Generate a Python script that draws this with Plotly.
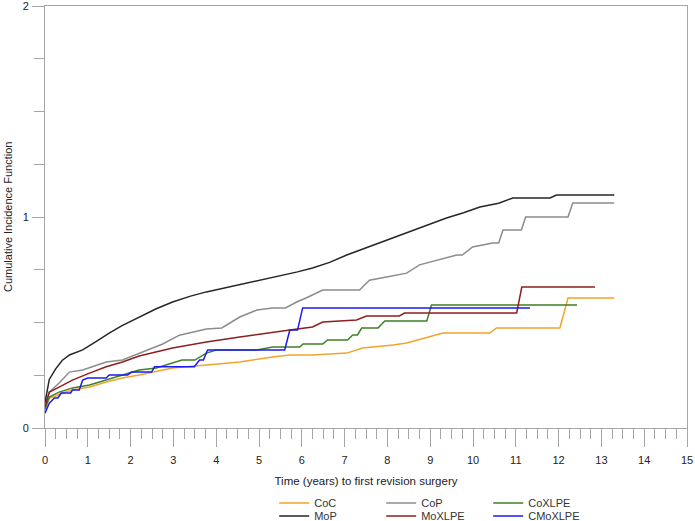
import plotly.graph_objects as go

# ---- data ----
coc_t = [0, 0.1, 0.25, 0.4, 0.64, 1.04, 1.43, 1.81, 2.2, 2.98, 3.77, 4.55, 5.32, 5.72, 6.25, 7.05, 7.42, 8.13, 8.45, 8.92, 9.3, 10.39, 10.55, 12.03, 12.22, 13.3]
coc_v = [0.085, 0.142, 0.152, 0.166, 0.18, 0.194, 0.218, 0.237, 0.251, 0.284, 0.299, 0.313, 0.336, 0.346, 0.346, 0.355, 0.379, 0.393, 0.403, 0.427, 0.45, 0.45, 0.474, 0.474, 0.616, 0.616]

cop_t = [0, 0.1, 0.33, 0.57, 0.88, 1.1, 1.43, 1.81, 2.2, 2.75, 3.14, 3.77, 4.13, 4.55, 4.95, 5.32, 5.62, 5.88, 6.1, 6.49, 7.35, 7.58, 7.98, 8.45, 8.75, 9.15, 9.62, 9.75, 9.99, 10.46, 10.6, 10.7, 11.13, 11.23, 12.22, 12.33, 13.3]
cop_v = [0.10, 0.17, 0.213, 0.265, 0.275, 0.29, 0.313, 0.322, 0.355, 0.398, 0.44, 0.469, 0.474, 0.526, 0.559, 0.569, 0.569, 0.597, 0.616, 0.654, 0.654, 0.70, 0.716, 0.734, 0.773, 0.796, 0.82, 0.82, 0.858, 0.877, 0.877, 0.938, 0.938, 1.0, 1.0, 1.066, 1.066]

coxlpe_t = [0, 0.1, 0.33, 0.64, 1.04, 1.43, 1.81, 2.2, 2.6, 2.98, 3.2, 3.5, 3.77, 4.0, 4.95, 5.32, 5.95, 6.03, 6.49, 6.6, 7.07, 7.19, 7.3, 7.4, 7.78, 7.94, 8.92, 9.03, 12.43]
coxlpe_v = [0.09, 0.147, 0.17, 0.19, 0.204, 0.227, 0.251, 0.275, 0.284, 0.308, 0.322, 0.322, 0.355, 0.37, 0.37, 0.384, 0.384, 0.398, 0.398, 0.417, 0.417, 0.441, 0.441, 0.474, 0.474, 0.507, 0.507, 0.583, 0.583]

mop_t = [0, 0.05, 0.1, 0.25, 0.4, 0.57, 0.88, 1.2, 1.5, 1.8, 2.2, 2.6, 2.98, 3.4, 3.77, 4.15, 4.55, 5.1, 5.5, 5.9, 6.25, 6.65, 7.05, 7.45, 7.82, 8.2, 8.6, 9.0, 9.38, 9.78, 10.16, 10.6, 10.93, 11.8, 11.95, 13.3]
mop_v = [0.12, 0.18, 0.23, 0.28, 0.32, 0.346, 0.37, 0.41, 0.45, 0.485, 0.526, 0.565, 0.597, 0.625, 0.645, 0.662, 0.678, 0.705, 0.72, 0.74, 0.758, 0.785, 0.82, 0.85, 0.88, 0.905, 0.938, 0.965, 0.995, 1.02, 1.047, 1.065, 1.09, 1.09, 1.104, 1.104]

moxlpe_t = [0, 0.1, 0.33, 0.64, 1.04, 1.43, 1.81, 2.2, 2.98, 3.77, 4.55, 5.32, 5.72, 6.25, 6.49, 7.28, 7.51, 8.28, 8.4, 11.02, 11.14, 12.85]
moxlpe_v = [0.10, 0.17, 0.194, 0.227, 0.26, 0.29, 0.313, 0.341, 0.379, 0.408, 0.431, 0.455, 0.464, 0.479, 0.502, 0.512, 0.531, 0.531, 0.545, 0.545, 0.668, 0.668]

cmoxlpe_t = [0, 0.1, 0.22, 0.3, 0.38, 0.6, 0.64, 0.8, 0.88, 1.0, 1.43, 1.5, 1.93, 2.02, 2.49, 2.56, 3.49, 3.61, 3.7, 3.8, 5.6, 5.72, 5.9, 6.02, 11.33]
cmoxlpe_v = [0.07, 0.118, 0.142, 0.142, 0.166, 0.166, 0.18, 0.18, 0.227, 0.237, 0.237, 0.251, 0.251, 0.265, 0.265, 0.29, 0.29, 0.322, 0.322, 0.37, 0.37, 0.464, 0.464, 0.569, 0.569]

x_ticks = list(range(0, 16))
y_ticks = [0, 1, 2]

series = [
    ("CoC", coc_t, coc_v, "#F2A32A", "legend"),
    ("CoP", cop_t, cop_v, "#8C8C8C", "legend"),
    ("CoXLPE", coxlpe_t, coxlpe_v, "#3F7F25", "legend"),
    ("MoP", mop_t, mop_v, "#262626", "legend2"),
    ("MoXLPE", moxlpe_t, moxlpe_v, "#8E1F1F", "legend2"),
    ("CMoXLPE", cmoxlpe_t, cmoxlpe_v, "#1A1AF5", "legend2"),
]

fig = go.Figure()
for name, t, v, col, lg in series:
    fig.add_trace(go.Scatter(x=t, y=v, mode="lines", name=name,
                             line=dict(color=col, width=1.5), legend=lg))

axcol = "#A6A6A6"
font = dict(family="Liberation Sans, Arial, sans-serif", size=11, color="#222222")

legend_common = dict(orientation="h", x=0.357, xanchor="left", yanchor="middle",
                     entrywidth=62, entrywidthmode="pixels", font=dict(size=11, color="#333333"),
                     tracegroupgap=0, itemwidth=30, bgcolor="rgba(0,0,0,0)")

fig.update_layout(
    width=695, height=521,
    margin=dict(l=45, r=8, t=6, b=93, autoexpand=False),
    paper_bgcolor="white", plot_bgcolor="white",
    font=font,
    showlegend=True,
    legend=dict(y=-0.1777, **legend_common),
    legend2=dict(y=-0.2085, **legend_common),
    xaxis=dict(range=[0, 15], tickvals=x_ticks, ticktext=[str(i) for i in x_ticks],
               automargin=False, ticklabeloverflow="allow", ticklabelstandoff=4,
               showgrid=False, zeroline=False, showline=True, linecolor=axcol, linewidth=1,
               mirror=True, ticks="outside", ticklen=18, tickcolor=axcol, tickwidth=1,
               minor=dict(dtick=0.25, tick0=0, ticks="outside", ticklen=10, tickcolor=axcol, tickwidth=1),
               title=dict(text="Time (years) to first revision surgery", standoff=11, font=dict(size=11.5))),
    yaxis=dict(range=[0, 2], tickvals=y_ticks, ticktext=[str(i) for i in y_ticks],
               automargin=False, ticklabeloverflow="allow", ticklabelstandoff=1,
               showgrid=False, zeroline=False, showline=True, linecolor=axcol, linewidth=1,
               mirror=True, ticks="outside", ticklen=12, tickcolor=axcol, tickwidth=1,
               minor=dict(dtick=0.25, tick0=0, ticks="outside", ticklen=10, tickcolor=axcol, tickwidth=1)),
    annotations=[dict(text="Cumulative Incidence Function", xref="paper", yref="paper",
                      x=-0.0576, y=0.5, xanchor="center", yanchor="middle", textangle=-90,
                      showarrow=False, font=dict(size=11, color="#222222"))],
)

fig.write_html("out.html", config={"displayModeBar": False},
               post_script="document.body.style.margin='0';document.body.style.overflow='hidden';")
